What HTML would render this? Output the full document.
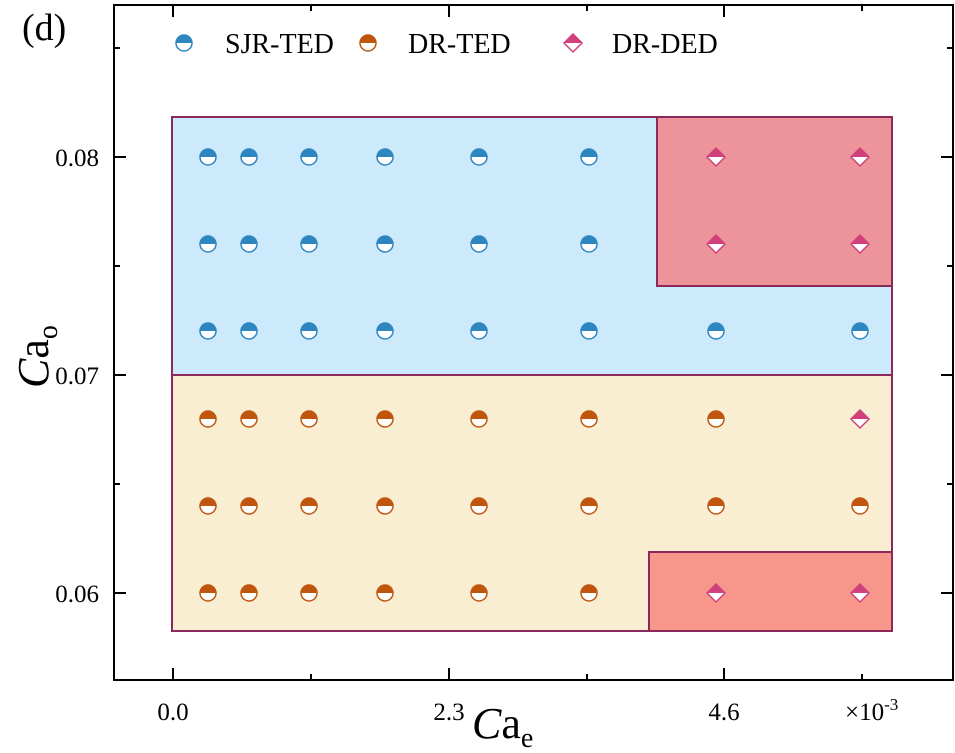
<!DOCTYPE html>
<html><head><style>body{margin:0;background:#fff}svg{display:block}</style></head>
<body>
<svg width="955" height="753" xmlns="http://www.w3.org/2000/svg" font-family="Liberation Serif, serif">
<defs>
<g id="cb"><circle r="8" fill="#fff" stroke="#2e86c1" stroke-width="1.5"/><path d="M-8,0 A8,8 0 0 1 8,0 Z" fill="#2e86c1"/></g>
<g id="co"><circle r="8" fill="#fff" stroke="#c0560e" stroke-width="1.5"/><path d="M-8,0 A8,8 0 0 1 8,0 Z" fill="#c0560e"/></g>
<g id="dp"><path d="M0,-9 L9,0 L0,9 L-9,0 Z" fill="#fff" stroke="#d0407a" stroke-width="1.5"/><path d="M-9,0 L0,-9 L9,0 Z" fill="#d0407a"/></g>
</defs>
<rect x="172" y="117" width="720" height="258" fill="#cdeafc" stroke="#8b2a5a" stroke-width="2"/>
<rect x="657" y="117" width="235" height="169" fill="#ec9499" stroke="#8b2a5a" stroke-width="2"/>
<rect x="172" y="375" width="720" height="256" fill="#f9edd2" stroke="#8b2a5a" stroke-width="2"/>
<rect x="649" y="552" width="243" height="79" fill="#f7968b" stroke="#8b2a5a" stroke-width="2"/>
<rect x="114" y="5" width="839" height="675" fill="none" stroke="#000" stroke-width="2"/>
<g stroke="#000" stroke-width="2">
<line x1="173" y1="680" x2="173" y2="668"/><line x1="449" y1="680" x2="449" y2="668"/><line x1="724" y1="680" x2="724" y2="668"/>
<line x1="311" y1="680" x2="311" y2="674"/><line x1="587" y1="680" x2="587" y2="674"/><line x1="862" y1="680" x2="862" y2="674"/>
<line x1="173" y1="5" x2="173" y2="17"/><line x1="449" y1="5" x2="449" y2="17"/><line x1="724" y1="5" x2="724" y2="17"/>
<line x1="311" y1="5" x2="311" y2="11"/><line x1="587" y1="5" x2="587" y2="11"/><line x1="862" y1="5" x2="862" y2="11"/>
<line x1="114" y1="157" x2="126" y2="157"/><line x1="114" y1="375" x2="126" y2="375"/><line x1="114" y1="593" x2="126" y2="593"/>
<line x1="114" y1="48" x2="120" y2="48"/><line x1="114" y1="266" x2="120" y2="266"/><line x1="114" y1="484" x2="120" y2="484"/>
<line x1="953" y1="157" x2="941" y2="157"/><line x1="953" y1="375" x2="941" y2="375"/><line x1="953" y1="593" x2="941" y2="593"/>
<line x1="953" y1="48" x2="947" y2="48"/><line x1="953" y1="266" x2="947" y2="266"/><line x1="953" y1="484" x2="947" y2="484"/>
</g>
<g font-size="25" fill="#000">
<text x="99" y="166" text-anchor="end">0.08</text>
<text x="99" y="384" text-anchor="end">0.07</text>
<text x="99" y="602" text-anchor="end">0.06</text>
<text x="173" y="720" text-anchor="middle">0.0</text>
<text x="449" y="720" text-anchor="middle">2.3</text>
<text x="724" y="720" text-anchor="middle">4.6</text>
<text x="845" y="720">×10<tspan font-size="17" dy="-10">-3</tspan></text>
<text x="22" y="40" font-size="38">(d)</text>
</g>
<text font-size="44" font-style="italic" transform="translate(48,388) rotate(-90)">C<tspan font-style="normal">a</tspan><tspan font-style="normal" font-size="28" dy="9">o</tspan></text>
<text x="472" y="738" font-size="44" font-style="italic">C<tspan font-style="normal">a</tspan><tspan font-style="normal" font-size="28" dy="9">e</tspan></text>
<g font-size="28" fill="#000">
<use href="#cb" x="184" y="43"/><text x="225" y="53">SJR-TED</text>
<use href="#co" x="368" y="43"/><text x="408" y="53">DR-TED</text>
<use href="#dp" x="573" y="43"/><text x="612" y="53">DR-DED</text>
</g>
<g>
<use href="#cb" x="208" y="157"/><use href="#cb" x="249" y="157"/><use href="#cb" x="309" y="157"/><use href="#cb" x="385" y="157"/><use href="#cb" x="479" y="157"/><use href="#cb" x="589" y="157"/>
<use href="#cb" x="208" y="244"/><use href="#cb" x="249" y="244"/><use href="#cb" x="309" y="244"/><use href="#cb" x="385" y="244"/><use href="#cb" x="479" y="244"/><use href="#cb" x="589" y="244"/>
<use href="#cb" x="208" y="331"/><use href="#cb" x="249" y="331"/><use href="#cb" x="309" y="331"/><use href="#cb" x="385" y="331"/><use href="#cb" x="479" y="331"/><use href="#cb" x="589" y="331"/><use href="#cb" x="716" y="331"/><use href="#cb" x="860" y="331"/>
<use href="#co" x="208" y="419"/><use href="#co" x="249" y="419"/><use href="#co" x="309" y="419"/><use href="#co" x="385" y="419"/><use href="#co" x="479" y="419"/><use href="#co" x="589" y="419"/><use href="#co" x="716" y="419"/>
<use href="#co" x="208" y="506"/><use href="#co" x="249" y="506"/><use href="#co" x="309" y="506"/><use href="#co" x="385" y="506"/><use href="#co" x="479" y="506"/><use href="#co" x="589" y="506"/><use href="#co" x="716" y="506"/><use href="#co" x="860" y="506"/>
<use href="#co" x="208" y="593"/><use href="#co" x="249" y="593"/><use href="#co" x="309" y="593"/><use href="#co" x="385" y="593"/><use href="#co" x="479" y="593"/><use href="#co" x="589" y="593"/>
<use href="#dp" x="716" y="157"/><use href="#dp" x="860" y="157"/><use href="#dp" x="716" y="244"/><use href="#dp" x="860" y="244"/>
<use href="#dp" x="860" y="419"/><use href="#dp" x="716" y="593"/><use href="#dp" x="860" y="593"/>
</g>
</svg>
</body></html>
